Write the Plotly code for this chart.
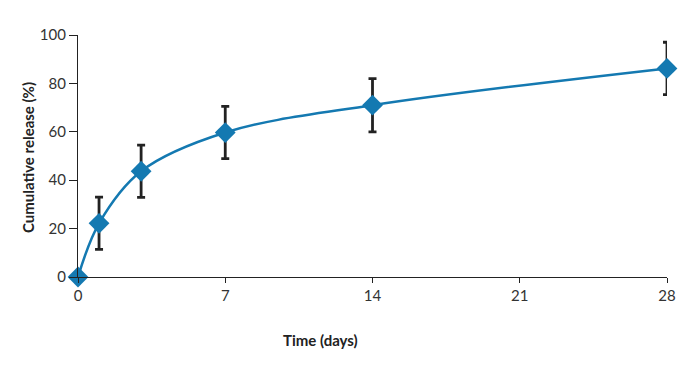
import plotly.graph_objects as go

time_days = [0, 1, 3, 7, 14, 28]
release = [0, 22.2, 43.7, 59.7, 71.0, 86.2]
err = [0, 10.8, 10.8, 10.8, 11.0, 10.8]
x_ticks = [0, 7, 14, 21, 28]
y_ticks = [0, 20, 40, 60, 80, 100]

BLUE = "#1479b1"
FONT = "Lato"

# page body has an 8px offset; compensate in margins
L, R, T, B = 70, 34, 27, 96

fig = go.Figure()
fig.add_trace(go.Scatter(
    x=time_days, y=release,
    mode="lines+markers",
    line=dict(color=BLUE, width=2.5, shape="spline", smoothing=1.0),
    marker=dict(symbol="diamond", size=16, color=BLUE),
    error_y=dict(type="data", array=err, visible=True, color="#222222", thickness=2.8, width=4),
    cliponaxis=False,
    showlegend=False,
))

axis_common = dict(
    showgrid=False, zeroline=False, showline=True, linecolor="#222222", linewidth=1.3,
    ticks="outside", tickcolor="#222222", tickwidth=1.3,
    tickfont=dict(family=FONT, size=15, color="#333333"),
)
fig.update_xaxes(range=[0, 28], tickvals=x_ticks, ticklen=5, **axis_common)
fig.update_yaxes(range=[0, 100], tickvals=y_ticks, ticklen=8, **axis_common)

pw = 693 - L - R
ph = 365 - T - B
fig.add_annotation(text="<b>Time (days)</b>", xref="paper", yref="paper",
                   x=(320 - 8 - L) / pw, y=-(340 - 8 - (365 - B)) / ph,
                   xanchor="center", yanchor="middle",
                   showarrow=False, font=dict(family=FONT, size=15, color="#222222"))
fig.add_annotation(text="<b>Cumulative release (%)</b>", xref="paper", yref="paper",
                   x=-(L - (28 - 8)) / pw, y=1 - (158 - 8 - T) / ph,
                   xanchor="center", yanchor="middle", textangle=-90,
                   showarrow=False, font=dict(family=FONT, size=15, color="#222222"))

fig.update_layout(
    width=693, height=365,
    margin=dict(l=L, r=R, t=T, b=B, autoexpand=False),
    paper_bgcolor="white", plot_bgcolor="white",
    font=dict(family=FONT),
)
fig.write_html("out.html")
